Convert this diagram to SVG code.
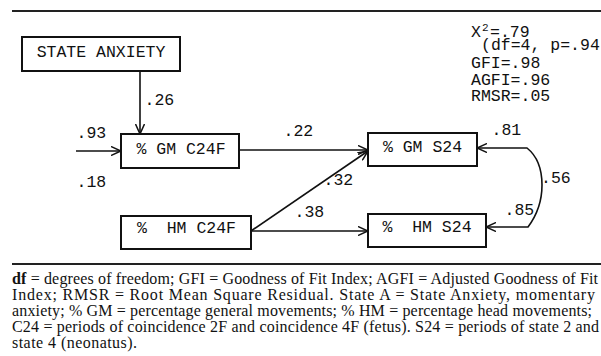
<svg xmlns="http://www.w3.org/2000/svg" width="601" height="356" viewBox="0 0 601 356">
<style>
.box{fill:#fff;stroke:#111;stroke-width:2}
.lbl{font-family:"Liberation Mono","Courier New",monospace;font-size:16.5px;fill:#111}
.sm{font-size:11px}
.cap{font-family:"Liberation Serif","Times New Roman",serif;font-size:16px;fill:#111}
.rule{stroke:#222;stroke-width:2}
.conn{fill:none;stroke:#111;stroke-width:1.6}
</style>
<defs>
<marker id="ah" viewBox="0 0 10 10" refX="10" refY="5" markerWidth="10" markerHeight="10" markerUnits="userSpaceOnUse" orient="auto-start-reverse">
<path d="M0,0.5 L10,5 L0,9.5" fill="none" stroke="#111" stroke-width="1.5"/>
</marker>
</defs>
<rect width="601" height="356" fill="#fff"/>
<line class="rule" x1="12" y1="11" x2="601" y2="11"/>
<line class="rule" x1="12" y1="264" x2="601" y2="264"/>

<g id="connectors">
<path class="conn" d="M140,71 V134" marker-end="url(#ah)"/>
<path class="conn" d="M76,151 H121" marker-end="url(#ah)"/>
<path class="conn" d="M239,150 H368" marker-end="url(#ah)"/>
<path class="conn" d="M251,231 L368,151" marker-end="url(#ah)"/>
<path class="conn" d="M251,231 H368" marker-end="url(#ah)"/>
<path class="conn" d="M477,148 H527 C537,156 542,170 542,185 C542,200 537,215 528,227 H486" marker-start="url(#ah)" marker-end="url(#ah)"/>
</g>

<g id="state-anxiety">
<rect class="box" x="22" y="37" width="158" height="34"/>
<text class="lbl" x="101" y="57" text-anchor="middle">STATE ANXIETY</text>
</g>
<g id="gm-c24f">
<rect class="box" x="121" y="134" width="118" height="34"/>
<text class="lbl" x="181" y="154" text-anchor="middle">% GM C24F</text>
</g>
<g id="gm-s24">
<rect class="box" x="368" y="133" width="109" height="33"/>
<text class="lbl" x="422.5" y="152" text-anchor="middle">% GM S24</text>
</g>
<g id="hm-c24f">
<rect class="box" x="121" y="216" width="130" height="33"/>
<text class="lbl" x="186.5" y="233" text-anchor="middle" xml:space="preserve">%  HM C24F</text>
</g>
<g id="hm-s24">
<rect class="box" x="368" y="214" width="118" height="33"/>
<text class="lbl" x="427" y="232" text-anchor="middle" xml:space="preserve">%  HM S24</text>
</g>

<g id="path-labels">
<text class="lbl" x="144.5" y="105">.26</text>
<text class="lbl" x="76.5" y="138">.93</text>
<text class="lbl" x="76.5" y="187">.18</text>
<text class="lbl" x="283.5" y="136">.22</text>
<text class="lbl" x="323.5" y="185">.32</text>
<text class="lbl" x="294.5" y="217">.38</text>
<text class="lbl" x="491.5" y="135">.81</text>
<text class="lbl" x="541" y="183">.56</text>
<text class="lbl" x="504.5" y="215">.85</text>
</g>

<g id="fit-stats">
<text class="lbl" x="471" y="37">X</text>
<text class="lbl sm" x="482" y="31">2</text>
<text class="lbl" x="490" y="37">=.79</text>
<text class="lbl" x="481" y="50">(df=4, p=.94)</text>
<text class="lbl" x="471" y="68">GFI=.98</text>
<text class="lbl" x="471" y="85">AGFI=.96</text>
<text class="lbl" x="471" y="101">RMSR=.05</text>
</g>

<g id="caption">
<text class="cap" x="12" y="284" textLength="586" lengthAdjust="spacing"><tspan font-weight="bold">df</tspan> = degrees of freedom; GFI = Goodness of Fit Index; AGFI = Adjusted Goodness of Fit</text>
<text class="cap" x="12" y="300" textLength="583" lengthAdjust="spacing">Index; RMSR = Root Mean Square Residual. State A = State Anxiety, momentary</text>
<text class="cap" x="12" y="316" textLength="580" lengthAdjust="spacing">anxiety; % GM = percentage general movements; % HM = percentage head movements;</text>
<text class="cap" x="12" y="332" textLength="587" lengthAdjust="spacing">C24 = periods of coincidence 2F and coincidence 4F (fetus). S24 = periods of state 2 and</text>
<text class="cap" x="12" y="348" textLength="125" lengthAdjust="spacing">state 4 (neonatus).</text>
</g>
</svg>
